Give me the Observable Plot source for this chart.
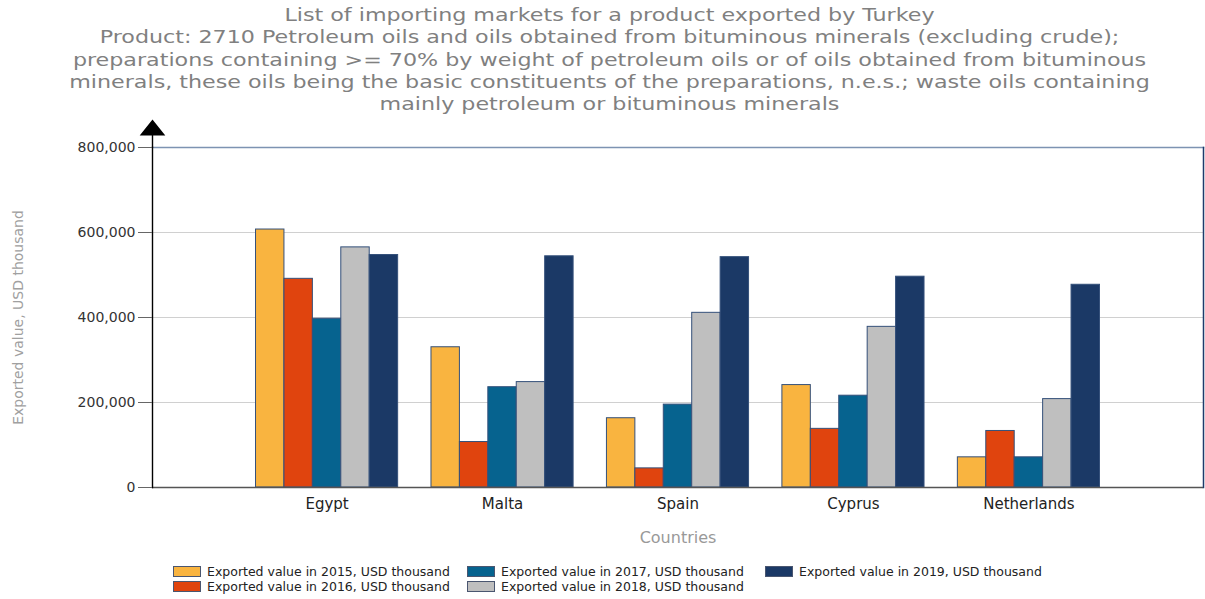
<!DOCTYPE html>
<html>
<head>
<meta charset="utf-8">
<script src="https://cdn.jsdelivr.net/npm/d3@7"></script>
<script src="https://cdn.jsdelivr.net/npm/@observablehq/plot@0.6"></script>
<style>
  html, body { margin: 0; padding: 0; background: #fff; }
  body { width: 1205px; height: 599px; overflow: hidden; font-family: "DejaVu Sans", sans-serif; }
  #titlewrap { height: 115px; box-sizing: border-box; padding-top: 4px; }
  #title { text-align: center; color: #808080; font-size: 18px; line-height: 22.3px;
           width: 1205px; transform: translateX(7px) scaleX(1.233); transform-origin: 602.5px 0; }
  #chart svg { display: block; }
  #legend { display: grid; grid-template-columns: 294px 298px auto; grid-auto-flow: column;
            grid-template-rows: 15px 15px; margin-left: 173px; padding-top: 17px;
            font-size: 12.5px; color: #222; }
  .item { display: flex; align-items: center; white-space: nowrap; }
  .sw { width: 26px; height: 9px; border: 1px solid #4a5670; margin-right: 6px; }
</style>
</head>
<body>
<div id="titlewrap"><div id="title"></div></div>
<div id="chart"></div>
<div id="legend"></div>
<script>
const titleLines = [
  "List of importing markets for a product exported by Turkey",
  "Product: 2710 Petroleum oils and oils obtained from bituminous minerals (excluding crude);",
  "preparations containing >= 70% by weight of petroleum oils or of oils obtained from bituminous",
  "minerals, these oils being the basic constituents of the preparations, n.e.s.; waste oils containing",
  "mainly petroleum or bituminous minerals"
];
const countries = ["Egypt", "Malta", "Spain", "Cyprus", "Netherlands"];
const years = ["2015", "2016", "2017", "2018", "2019"];
const v2015 = [607000, 330000, 163000, 241000, 71000];
const v2016 = [491000, 107000, 45000, 138000, 133000];
const v2017 = [397000, 236000, 195000, 216000, 71000];
const v2018 = [565000, 248000, 411000, 378000, 208000];
const v2019 = [547000, 544000, 542000, 496000, 477000];
const seriesColors = ["#f9b440", "#e0440e", "#06638f", "#bfbfbf", "#1b3966"];
const yTicks = [0, 200000, 400000, 600000, 800000];
const xLabel = "Countries";
const yLabel = "Exported value, USD thousand";
const legendLabel = (y) => `Exported value in ${y}, USD thousand`;

const series = [v2015, v2016, v2017, v2018, v2019];
const data = years.flatMap((yr, i) => countries.map((c, j) => ({country: c, year: yr, value: series[i][j]})));

document.getElementById("title").innerHTML = titleLines.map(t => `<div>${t.replace(/&/g,"&amp;").replace(/</g,"&lt;").replace(/>/g,"&gt;")}</div>`).join("");

const W = 1205, H = 432, ML = 152, MR = 2, MT = 32, MB = 60;
const xOpts = {type: "band", domain: countries, paddingInner: 0.19, paddingOuter: 0.59, round: false};
const bw = Plot.scale({x: {...xOpts, range: [ML, W - MR]}}).bandwidth;
const sub = bw / years.length;

const arrowSymbol = {
  draw(ctx) {
    ctx.moveTo(0, -28); ctx.lineTo(12.8, -12); ctx.lineTo(-12.8, -12); ctx.closePath();
    ctx.moveTo(-0.7, -12); ctx.lineTo(0.7, -12); ctx.lineTo(0.7, 0); ctx.lineTo(-0.7, 0); ctx.closePath();
  }
};

const barMarks = years.map((yr, i) => Plot.barY(data.filter(d => d.year === yr), {
  x: "country", y: "value", fill: seriesColors[i],
  stroke: "#34507a", strokeWidth: 1,
  insetLeft: i * sub, insetRight: (years.length - 1 - i) * sub
}));

const chart = Plot.plot({
  width: W, height: H,
  marginLeft: ML, marginRight: MR, marginTop: MT, marginBottom: MB,
  style: {fontFamily: "DejaVu Sans, sans-serif", fontSize: "14px", color: "#333", background: "#fff"},
  x: {...xOpts, axis: null},
  y: {domain: [0, 800000], axis: null},
  marks: [
    Plot.ruleY(yTicks.slice(1, -1), {stroke: "#d0d0d0", strokeWidth: 1.2}),
    ...barMarks,
    Plot.frame({anchor: "top", stroke: "#7d93b2", strokeWidth: 1.5}),
    Plot.frame({anchor: "right", stroke: "#1e3b6b", strokeWidth: 1.5}),
    Plot.ruleY([0], {stroke: "#555", strokeWidth: 1.5}),
    Plot.frame({anchor: "left", stroke: "#000", strokeWidth: 1.4}),
    Plot.axisY(yTicks, {tickSize: 14, tickPadding: 3, tickFormat: d3.format(","), label: null,
      fontSize: 14, fill: "#333", stroke: "#666"}),
    Plot.axisX({tickSize: 0, tickPadding: 11, label: null, fontSize: 15, fill: "#222"}),
    Plot.dot([0], {frameAnchor: "top-left", symbol: arrowSymbol, fill: "#000", stroke: "none"}),
    Plot.text([xLabel], {frameAnchor: "bottom", dy: 55, fontSize: 16, fill: "#999"}),
    Plot.text([yLabel], {frameAnchor: "left", textAnchor: "middle", dx: -134, rotate: -90, fontSize: 14, fill: "#a0a0a0"})
  ]
});
document.getElementById("chart").appendChild(chart);

document.getElementById("legend").innerHTML = years.map((yr, i) =>
  `<div class="item"><span class="sw" style="background:${seriesColors[i]}"></span>${legendLabel(yr)}</div>`).join("");
</script>
</body>
</html>
